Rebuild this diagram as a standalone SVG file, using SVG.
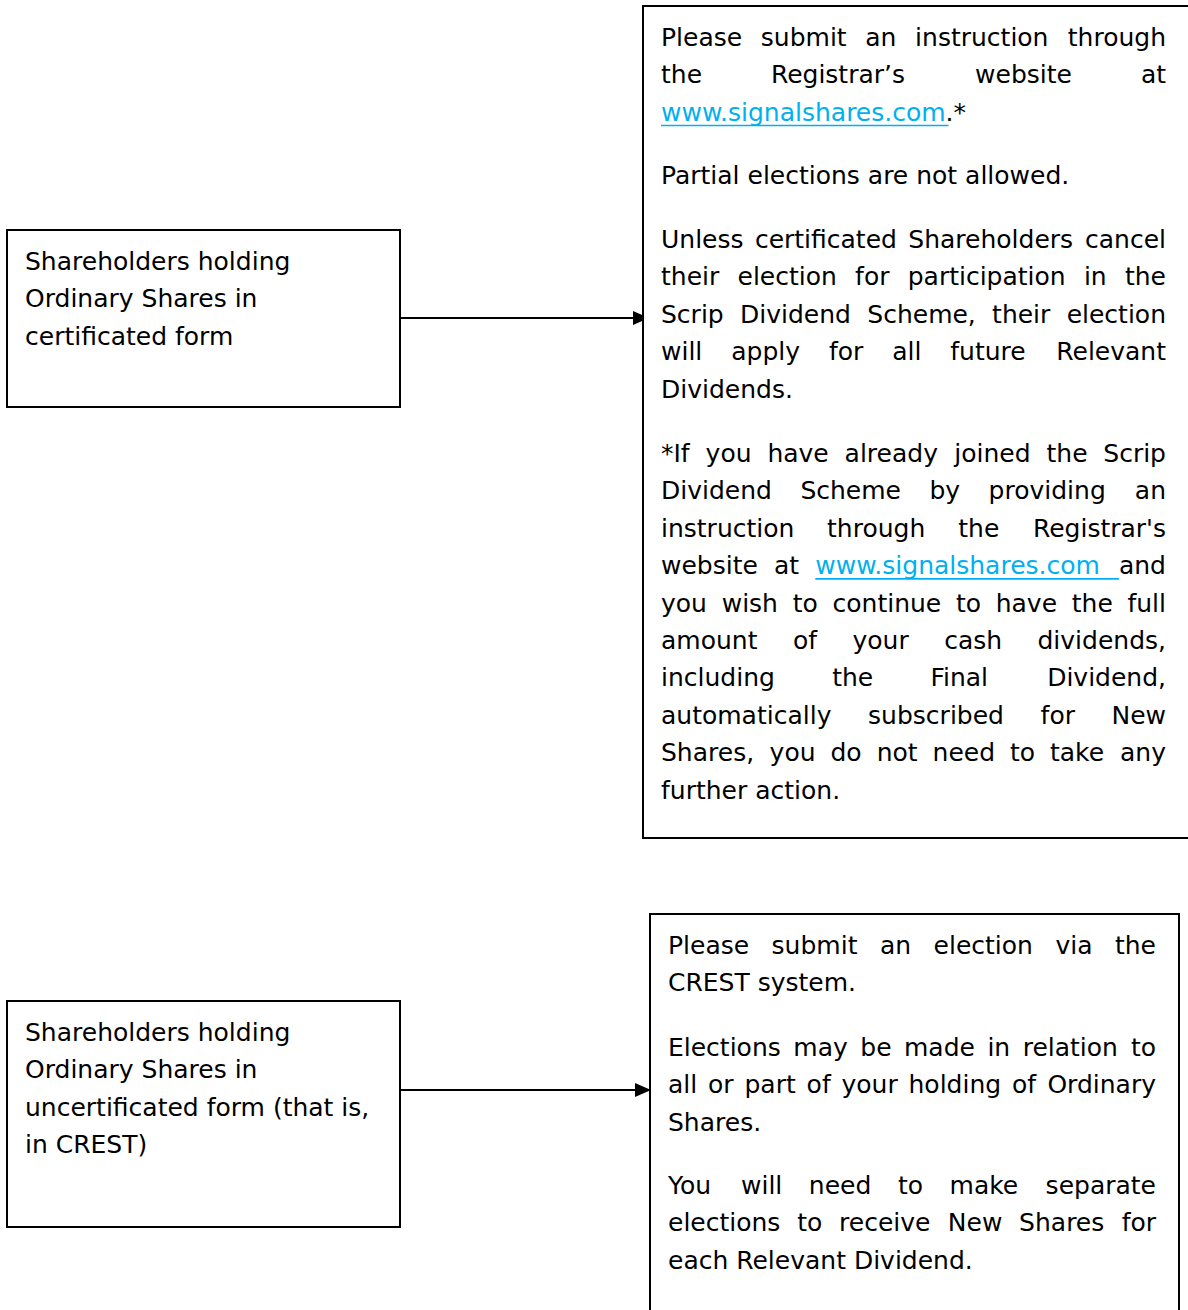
<svg xmlns="http://www.w3.org/2000/svg" width="1188" height="1310" viewBox="0 0 1188 1310">
<style>
.box{fill:#fff;stroke:#000;stroke-width:2}
.t{font-family:"DejaVu Sans","Verdana",sans-serif;font-size:25px;fill:#000}
.e{text-anchor:end}
.lnk{fill:#00B0F0}
.ul{stroke:#00B0F0;stroke-width:1.6}
.conn{stroke:#000;stroke-width:2;fill:none}
</style>
<defs>
<marker id="arr" markerUnits="userSpaceOnUse" markerWidth="16" markerHeight="14" refX="15" refY="7" orient="auto">
<path d="M0,0 L16,7 L0,14 Z" fill="#000"/>
</marker>
</defs>
<g id="connectors">
<line class="conn" x1="400" y1="318" x2="648" y2="318" marker-end="url(#arr)"/>
<line class="conn" x1="400" y1="1090" x2="650" y2="1090" marker-end="url(#arr)"/>
</g>
<g id="node-certificated">
<rect class="box" x="7" y="230" width="393" height="177"/>
<text class="t" x="25" y="270">Shareholders holding</text>
<text class="t" x="25" y="307.4">Ordinary Shares in</text>
<text class="t" x="25" y="344.8">certificated form</text>
</g>
<g id="node-uncertificated">
<rect class="box" x="7" y="1001" width="393" height="226"/>
<text class="t" x="25" y="1041">Shareholders holding</text>
<text class="t" x="25" y="1078.4">Ordinary Shares in</text>
<text class="t" x="25" y="1115.8">uncertificated form (that is,</text>
<text class="t" x="25" y="1153.2">in CREST)</text>
</g>
<g id="node-certificated-action">
<rect class="box" x="643" y="6" width="560" height="832"/>
<text class="t" y="46"><tspan x="661">Please</tspan><tspan x="760.8">submit</tspan><tspan x="865.3">an</tspan><tspan x="915.1">instruction</tspan><tspan x="1166" class="e">through</tspan></text>
<text class="t" y="83.4"><tspan x="661">the</tspan><tspan x="770.9">Registrar’s</tspan><tspan x="975.1">website</tspan><tspan x="1166" class="e">at</tspan></text>
<text class="t" y="120.8"><tspan x="661" class="lnk">www.signalshares.com</tspan><tspan>.*</tspan></text>
<line class="ul" x1="661" y1="125.5" x2="948.5" y2="125.5"/>
<text class="t" x="661" y="184">Partial elections are not allowed.</text>
<text class="t" y="248"><tspan x="661">Unless</tspan><tspan x="754.9">certificated</tspan><tspan x="908.3">Shareholders</tspan><tspan x="1166" class="e">cancel</tspan></text>
<text class="t" y="285.4"><tspan x="661">their</tspan><tspan x="737.5">election</tspan><tspan x="855.1">for</tspan><tspan x="907.7">participation</tspan><tspan x="1083.9">in</tspan><tspan x="1166" class="e">the</tspan></text>
<text class="t" y="322.8"><tspan x="661">Scrip</tspan><tspan x="740">Dividend</tspan><tspan x="867.3">Scheme,</tspan><tspan x="992.1">their</tspan><tspan x="1166" class="e">election</tspan></text>
<text class="t" y="360.2"><tspan x="661">will</tspan><tspan x="731.2">apply</tspan><tspan x="828.9">for</tspan><tspan x="892.2">all</tspan><tspan x="950.3">future</tspan><tspan x="1166" class="e">Relevant</tspan></text>
<text class="t" x="661" y="397.6">Dividends.</text>
<text class="t" y="462"><tspan x="661">*If</tspan><tspan x="705.6">you</tspan><tspan x="767.4">have</tspan><tspan x="844.6">already</tspan><tspan x="954.3">joined</tspan><tspan x="1046.5">the</tspan><tspan x="1166" class="e">Scrip</tspan></text>
<text class="t" y="499.4"><tspan x="661">Dividend</tspan><tspan x="800.4">Scheme</tspan><tspan x="929.4">by</tspan><tspan x="988.6">providing</tspan><tspan x="1166" class="e">an</tspan></text>
<text class="t" y="536.8"><tspan x="661">instruction</tspan><tspan x="827">through</tspan><tspan x="958.3">the</tspan><tspan x="1166" class="e">Registrar's</tspan></text>
<text class="t" y="574.2"><tspan x="661">website</tspan><tspan x="774">at</tspan><tspan x="815.3" class="lnk">www.signalshares.com</tspan><tspan x="1166" class="e">and</tspan></text>
<line class="ul" x1="815.3" y1="578.9" x2="1118.9" y2="578.9"/>
<text class="t" y="611.6"><tspan x="661">you</tspan><tspan x="721.7">wish</tspan><tspan x="792.7">to</tspan><tspan x="832.5">continue</tspan><tspan x="955.9">to</tspan><tspan x="995.7">have</tspan><tspan x="1071.8">the</tspan><tspan x="1166" class="e">full</tspan></text>
<text class="t" y="649"><tspan x="661">amount</tspan><tspan x="793">of</tspan><tspan x="852.5">your</tspan><tspan x="944.2">cash</tspan><tspan x="1166" class="e">dividends,</tspan></text>
<text class="t" y="686.4"><tspan x="661">including</tspan><tspan x="832.2">the</tspan><tspan x="930.4">Final</tspan><tspan x="1166" class="e">Dividend,</tspan></text>
<text class="t" y="723.8"><tspan x="661">automatically</tspan><tspan x="868.1">subscribed</tspan><tspan x="1040.6">for</tspan><tspan x="1166" class="e">New</tspan></text>
<text class="t" y="761.2"><tspan x="661">Shares,</tspan><tspan x="769.6">you</tspan><tspan x="830.5">do</tspan><tspan x="876.7">not</tspan><tspan x="932.6">need</tspan><tspan x="1010">to</tspan><tspan x="1050">take</tspan><tspan x="1166" class="e">any</tspan></text>
<text class="t" x="661" y="798.6">further action.</text>
</g>
<g id="node-uncertificated-action">
<rect class="box" x="650" y="914" width="529" height="420"/>
<text class="t" y="954"><tspan x="668">Please</tspan><tspan x="771.6">submit</tspan><tspan x="879.9">an</tspan><tspan x="933.6">election</tspan><tspan x="1055.4">via</tspan><tspan x="1156" class="e">the</tspan></text>
<text class="t" x="668" y="991.4">CREST system.</text>
<text class="t" y="1056"><tspan x="668">Elections</tspan><tspan x="793.3">may</tspan><tspan x="860.3">be</tspan><tspan x="904">made</tspan><tspan x="987.4">in</tspan><tspan x="1022.7">relation</tspan><tspan x="1156" class="e">to</tspan></text>
<text class="t" y="1093.4"><tspan x="668">all</tspan><tspan x="708">or</tspan><tspan x="744.5">part</tspan><tspan x="806.6">of</tspan><tspan x="841.5">your</tspan><tspan x="908.5">holding</tspan><tspan x="1012">of</tspan><tspan x="1156" class="e">Ordinary</tspan></text>
<text class="t" x="668" y="1130.8">Shares.</text>
<text class="t" y="1194"><tspan x="668">You</tspan><tspan x="741">will</tspan><tspan x="808.8">need</tspan><tspan x="897.9">to</tspan><tspan x="949.6">make</tspan><tspan x="1156" class="e">separate</tspan></text>
<text class="t" y="1231.4"><tspan x="668">elections</tspan><tspan x="797.2">to</tspan><tspan x="839.1">receive</tspan><tspan x="947.8">New</tspan><tspan x="1019.1">Shares</tspan><tspan x="1156" class="e">for</tspan></text>
<text class="t" x="668" y="1268.8">each Relevant Dividend.</text>
</g>
</svg>
